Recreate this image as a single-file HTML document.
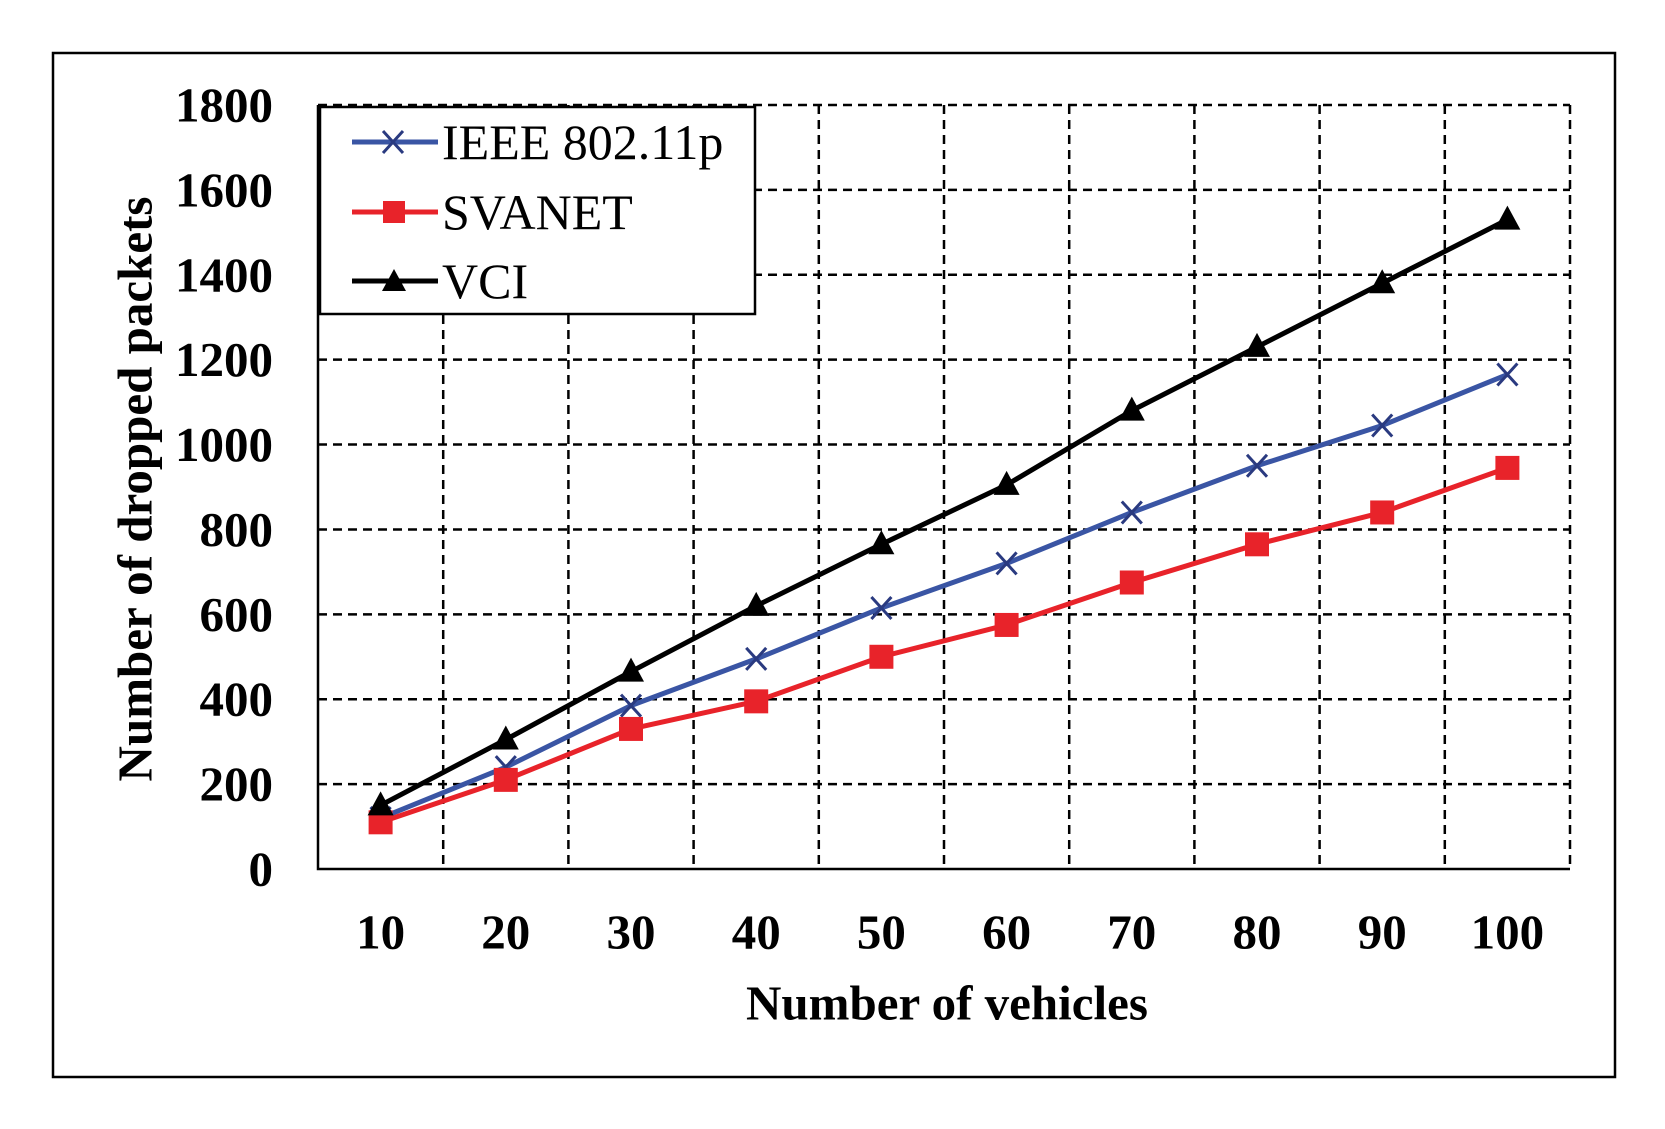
<!DOCTYPE html>
<html><head><meta charset="utf-8"><style>
body{margin:0;background:#fff}
svg text{font-family:"Liberation Serif",serif}
</style></head><body>
<svg width="1665" height="1124">
<rect x="53" y="53" width="1562" height="1024" fill="#fff" stroke="#000" stroke-width="2.5"/>
<g id="grid"></g>
<g id="axes"></g>
<g id="series"></g>
<text x="135" y="489" transform="rotate(-90 135 489)" text-anchor="middle" dominant-baseline="central" font-weight="bold" font-size="49">Number of dropped packets</text>
<text x="947" y="1003" text-anchor="middle" dominant-baseline="central" font-weight="bold" font-size="49">Number of vehicles</text>
<g>
<rect x="320" y="107" width="435" height="207" fill="#fff" stroke="#000" stroke-width="2.5"/>
<g>
<line x1="352" y1="142" x2="438" y2="142" stroke="#3a55a4" stroke-width="5"/>
<path d="M383 131 L403 153 M403 131 L383 153" stroke="#2a3a80" stroke-width="3"/>
<text x="442" y="142" dominant-baseline="central" font-size="50">IEEE 802.11p</text></g>
<g>
<line x1="352" y1="212" x2="438" y2="212" stroke="#e8232a" stroke-width="5"/>
<rect x="383" y="201" width="22" height="22" fill="#e8232a"/>
<text x="442" y="212" dominant-baseline="central" font-size="50">SVANET</text></g>
<g>
<line x1="352" y1="281" x2="438" y2="281" stroke="#000" stroke-width="5"/>
<path d="M394 269 L406 291 L382 291 Z" fill="#000"/>
<text x="442" y="281" dominant-baseline="central" font-size="50">VCI</text></g>
</g>
</svg>
<script>
const categories=[10,20,30,40,50,60,70,80,90,100];
const yTicks=[0,200,400,600,800,1000,1200,1400,1600,1800];
const ieee=[120,240,385,495,615,720,840,950,1045,1165];
const svanet=[110,210,330,395,500,575,675,765,840,945];
const vci=[150,305,465,620,765,905,1080,1230,1380,1530];
const NS='http://www.w3.org/2000/svg';
const L=318,R=1570,T=105,B=869,YMAX=1800;
const step=(R-L)/categories.length;
const xs=i=>L+step*(i+0.5);
const ys=v=>B-(v/YMAX)*(B-T);
function mk(tag,a,p){const e=document.createElementNS(NS,tag);for(const k in a)e.setAttribute(k,a[k]);p.appendChild(e);return e;}
const grid=document.getElementById('grid'),axes=document.getElementById('axes'),ser=document.getElementById('series');
yTicks.forEach(t=>{
 if(t>0){const g=mk('line',{x1:L,x2:R,y1:ys(t),y2:ys(t),stroke:'#000','stroke-width':2.5,'stroke-dasharray':'9,6'},grid);
 
 }
 const tx=mk('text',{x:273,y:ys(t),'text-anchor':'end','dominant-baseline':'central','font-size':49,'font-weight':'bold'},axes);
 tx.textContent=t;
 
 
});
for(let i=1;i<=categories.length;i++){
 const g=mk('line',{x1:L+step*i,x2:L+step*i,y1:T,y2:B,stroke:'#000','stroke-width':2.5,'stroke-dasharray':'9,6'},grid);
 
 
}
categories.forEach((c,i)=>{
 const tx=mk('text',{x:xs(i),y:932,'text-anchor':'middle','dominant-baseline':'central','font-size':49,'font-weight':'bold'},axes);
 tx.textContent=c;
 
 
});
const ax=mk('path',{d:`M${L} ${T} L${L} ${B} L${R} ${B}`,fill:'none',stroke:'#000','stroke-width':2.5},axes);


function line(vals,color,name,marker){
 const g=mk('g',{},ser);
 
 
 mk('polyline',{points:vals.map((v,i)=>xs(i)+','+ys(v)).join(' '),fill:'none',stroke:color,'stroke-width':5,'stroke-linejoin':'round'},g);
 vals.forEach((v,i)=>{const x=xs(i),y=ys(v);let m;
  if(marker==='x')m=mk('path',{d:`M${x-10} ${y-11} L${x+10} ${y+11} M${x+10} ${y-11} L${x-10} ${y+11}`,stroke:'#2a3a80','stroke-width':3},g);
  else if(marker==='sq')m=mk('rect',{x:x-12,y:y-12,width:24,height:24,fill:color},g);
  else m=mk('path',{d:`M${x} ${y-14} L${x+13} ${y+10} L${x-13} ${y+10} Z`,fill:color},g);
  
  
 });
}
line(ieee,'#3a55a4','ieee','x');
line(svanet,'#e8232a','svanet','sq');
line(vci,'#000','vci','tri');
</script>
</body></html>
